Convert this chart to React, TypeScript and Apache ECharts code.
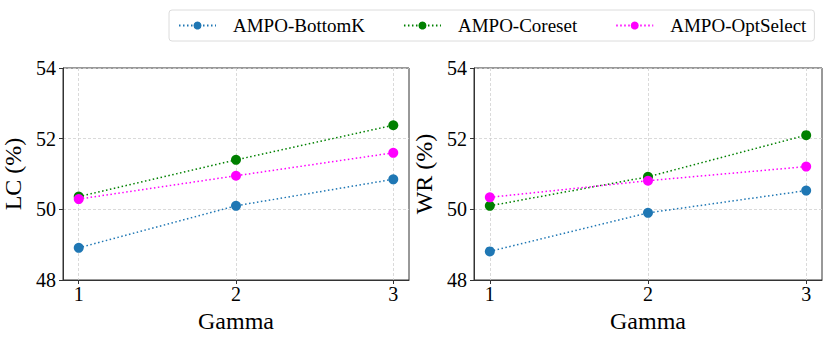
import React, { useEffect, useRef } from "react";
import * as echarts from "echarts";

const gammas = [1, 2, 3];
const seriesNames = ["AMPO-BottomK", "AMPO-Coreset", "AMPO-OptSelect"];
const seriesColors = ["#1f77b4", "#008000", "#ff00ff"];
const lcBottomK = [48.91, 50.1, 50.85];
const lcCoreset = [50.36, 51.4, 52.38];
const lcOptSelect = [50.29, 50.95, 51.6];
const wrBottomK = [48.81, 49.9, 50.53];
const wrCoreset = [50.1, 50.92, 52.1];
const wrOptSelect = [50.34, 50.81, 51.21];
const yTicks = [48, 50, 52, 54];
const panelNames = ["LC (%)", "WR (%)"];

const FONT = '"Liberation Serif", "DejaVu Serif", serif';

export default function App() {
  const ref = useRef<HTMLDivElement>(null);
  useEffect(() => {
    document.body.style.margin = "0";
    const chart = echarts.init(ref.current!, null, { renderer: "svg" });
    const lc = [lcBottomK, lcCoreset, lcOptSelect];
    const wr = [wrBottomK, wrCoreset, wrOptSelect];
    const grids = [
      { left: 62, top: 68, width: 347, height: 212 },
      { left: 474, top: 68, width: 348, height: 212 },
    ];
    const xAxes = grids.map((_, i) => ({
      type: "value",
      gridIndex: i,
      min: 0.9,
      max: 3.1,
      name: "Gamma",
      nameLocation: "middle",
      nameGap: 27,
      nameTextStyle: { fontFamily: FONT, fontSize: 24, color: "#000" },
      axisLine: { show: true, onZero: false, lineStyle: { color: "#333", width: 1 } },
      axisTick: { show: true, length: 4, customValues: gammas, lineStyle: { color: "#333" } },
      axisLabel: {
        customValues: gammas,
        margin: 4,
        fontFamily: FONT,
        fontSize: 20,
        color: "#000",
      },
      splitLine: {
        show: true,
        customValues: gammas,
        lineStyle: { color: "#d0d0d0", type: [3, 2], width: 0.8 },
      },
    }));
    const yAxes = grids.map((_, i) => ({
      type: "value",
      gridIndex: i,
      min: 48,
      max: 54,
      interval: 2,
      name: panelNames[i],
      nameLocation: "middle",
      nameGap: 38,
      nameTextStyle: { fontFamily: FONT, fontSize: 24, color: "#000" },
      axisLine: { show: true, onZero: false, lineStyle: { color: "#333", width: 1 } },
      axisTick: { show: true, length: 4, lineStyle: { color: "#333" } },
      axisLabel: {
        margin: 7,
        fontFamily: FONT,
        fontSize: 20,
        color: "#000",
        formatter: (v: number) => (yTicks.includes(v) ? String(v) : ""),
      },
      splitLine: {
        show: true,
        lineStyle: { color: "#d0d0d0", type: [3, 2], width: 0.8 },
      },
    }));
    const series: any[] = [];
    [lc, wr].forEach((panel, gi) => {
      panel.forEach((vals, si) => {
        series.push({
          type: "line",
          name: seriesNames[si],
          xAxisIndex: gi,
          yAxisIndex: gi,
          data: gammas.map((g, k) => [g, vals[k]]),
          symbol: "circle",
          symbolSize: 10,
          itemStyle: { color: seriesColors[si] },
          lineStyle: { color: seriesColors[si], width: 1.5, type: [1.5, 2.5] },
          z: 3 + si,
        });
      });
    });
    chart.setOption({
      animation: false,
      backgroundColor: "#fff",
      grid: grids.map((g) => ({
        ...g,
        show: true,
        borderColor: "#333",
        borderWidth: 1,
        backgroundColor: "transparent",
      })),
      legend: {
        data: seriesNames,
        left: 169,
        top: 10,
        itemWidth: 37,
        itemHeight: 10,
        itemGap: 38,
        padding: [6, 8, 6, 9],
        borderColor: "#dcdcdc",
        borderWidth: 1,
        borderRadius: 3,
        textStyle: { fontFamily: FONT, fontSize: 19, color: "#000", padding: [0, 0, 0, 12] },
      },
      xAxis: xAxes,
      yAxis: yAxes,
      series,
    });
    return () => chart.dispose();
  }, []);
  return <div ref={ref} style={{ width: 830, height: 341 }} />;
}
